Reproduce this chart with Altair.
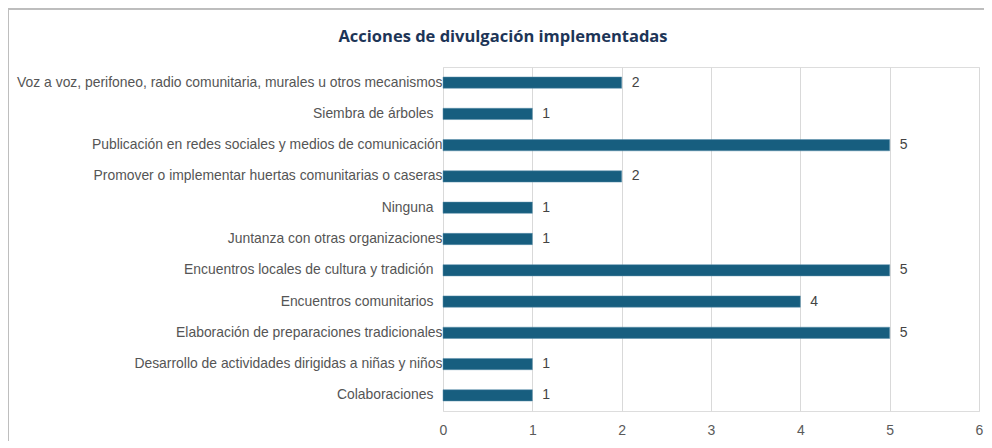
import altair as alt
import pandas as pd

categories = [
    "Voz a voz, perifoneo, radio comunitaria, murales u otros mecanismos",
    "Siembra de árboles",
    "Publicación en redes sociales y medios de comunicación",
    "Promover o implementar huertas comunitarias o caseras",
    "Ninguna",
    "Juntanza con otras organizaciones",
    "Encuentros locales de cultura y tradición",
    "Encuentros comunitarios",
    "Elaboración de preparaciones tradicionales",
    "Desarrollo de actividades dirigidas a niñas y niños",
    "Colaboraciones",
]
values = [2, 1, 5, 2, 1, 1, 5, 4, 5, 1, 1]
x_ticks = [0, 1, 2, 3, 4, 5, 6]
# labels that carry trailing blanks in the original
padded = ["Siembra de árboles", "Ninguna", "Encuentros locales de cultura y tradición",
          "Encuentros comunitarios", "Colaboraciones"]

df = pd.DataFrame({"accion": categories, "valor": values})

pad_test = "indexof([" + ",".join("'" + p + "'" for p in padded) + "], datum.value) >= 0"

y_enc = alt.Y(
    "accion:N",
    sort=categories,
    title=None,
    scale=alt.Scale(paddingInner=0.64, paddingOuter=0.32),
    axis=alt.Axis(
        labelFont="Liberation Sans",
        labelFontSize=13.9,
        labelColor="#555555",
        labelPadding={"condition": {"test": pad_test, "value": 10}, "value": 1},
        ticks=False,
        domain=False,
        grid=False,
        labelLimit=600,
    ),
)
x_enc = alt.X(
    "valor:Q",
    title=None,
    scale=alt.Scale(domain=[0, 6], nice=False),
    axis=alt.Axis(
        values=x_ticks,
        format="d",
        labelFont="Liberation Sans",
        labelFontSize=14,
        labelColor="#5a5a5a",
        labelPadding=12,
        labelFlush=False,
        ticks=False,
        domain=False,
        grid=True,
        gridColor="#d9d9d9",
    ),
)

bars = alt.Chart(df).mark_bar(color="#175e7f", stroke="#5b8fab", strokeWidth=0.5).encode(
    x=x_enc, y=y_enc
)
labels = alt.Chart(df).mark_text(
    align="left", baseline="middle", dx=10, font="Liberation Sans", fontSize=14, color="#444444"
).encode(x="valor:Q", y=alt.Y("accion:N", sort=categories), text="valor:Q")

frame = alt.Chart(df).mark_rect(fill="transparent", stroke="#bdbdbd", strokeWidth=1).encode(
    x=alt.value(-435), x2=alt.value(700), y=alt.value(-58), y2=alt.value(500)
)

chart = (
    alt.layer(frame, bars, labels)
    .properties(
        width=536,
        height=344,
        autosize=alt.AutoSizeParams(type="none"),
        padding={"left": 435, "top": 59, "right": 5, "bottom": 30},
        title=alt.Title(
            "Acciones de divulgación implementadas",
            font="Open Sans",
            fontSize=16.5,
            fontWeight="bold",
            color="#1d3557",
            anchor="middle",
            frame="group",
            dx=-208,
            offset=-37,
        ),
    )
    .configure_view(stroke=None)
    .configure(background="white")
)

chart.save("out.html", embed_options={"renderer": "svg", "actions": False})
